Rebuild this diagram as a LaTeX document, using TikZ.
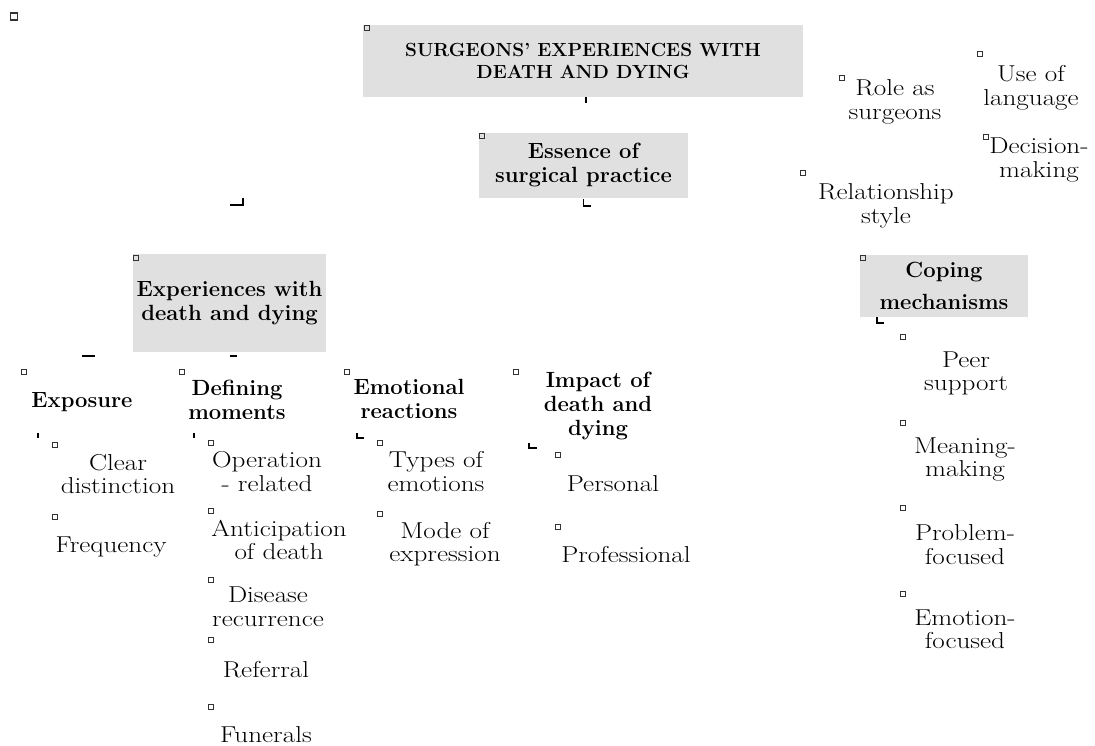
\documentclass[tikz,border=0pt]{standalone}
\usepackage{fontspec}
\usepackage{tikz}
\newfontfamily\widefont{lmroman17-regular}[Extension=.otf, FakeStretch=1.18]
\definecolor{boxgray}{HTML}{E0E0E0}
\newcommand{\bodyfont}{\widefont\fontsize{23}{23.5}\selectfont}
\newcommand{\headfont}{\fontsize{22}{24}\selectfont\bfseries}
\newcommand{\titlefont}{\fontsize{19}{22}\selectfont\bfseries}

\begin{document}
\begin{tikzpicture}[x=1pt,y=-1pt,
    box/.style={fill=boxgray, inner sep=0pt, align=center, font=\headfont},
    lbl/.style={inner sep=0pt, align=center, font=\bodyfont},
    head/.style={lbl, font=\headfont},
    fold/.style={draw=black!80, line width=0.7pt, minimum size=5.5pt, inner sep=0pt},
    stub/.style={line width=1.6pt}]
    \useasboundingbox (0,0) rectangle (1095,746);
    % boxes
    \node[box, font=\titlefont, minimum width=440pt, minimum height=72pt] (T) at (583,61) {SURGEONS’ EXPERIENCES WITH\\DEATH AND DYING};
    \node[box, minimum width=209pt, minimum height=65pt] (E) at (583.5,165.5) {Essence of\\surgical practice};
    \node[box, minimum width=193pt, minimum height=98pt] (X) at (229.5,303) {Experiences with\\death and dying};
    \node[box, minimum width=168pt, minimum height=62pt] (C) at (944,286) {Coping\\[8pt]mechanisms};
    % right branch
    \node[lbl] (RS) at (895,102) {Role as\\surgeons};
    \node[lbl] (UL) at (1031,88) {Use of\\language};
    \node[lbl] (DM) at (1039,160) {Decision-\\making};
    \node[lbl] (RY) at (886,206) {Relationship\\style};
    \node[lbl] (PS) at (966,373.5) {Peer\\support};
    \node[lbl] (MM) at (965,459.5) {Meaning-\\making};
    \node[lbl] (PF) at (965,544.5) {Problem-\\focused};
    \node[lbl] (EF) at (965,629.5) {Emotion-\\focused};
    % left branch
    \node[head] (EX) at (82,402) {Exposure};
    \node[head] (DF) at (237,400) {Defining\\moments};
    \node[head] (ER) at (409,399) {Emotional\\reactions};
    \node[head] (IM) at (598,406) {Impact of\\death and\\dying};
    \node[lbl] (CD) at (118,474) {Clear\\distinction};
    \node[lbl] (FQ) at (111,547) {Frequency};
    \node[lbl] (OR) at (267,471.5) {Operation\\- related};
    \node[lbl] (AD) at (279,540) {Anticipation\\of death};
    \node[lbl] (DR) at (268,606.5) {Disease\\recurrence};
    \node[lbl] (RF) at (266,670) {Referral};
    \node[lbl] (FN) at (266,735) {Funerals};
    \node[lbl] (TE) at (436,471.5) {Types of\\emotions};
    \node[lbl] (ME) at (445,544) {Mode of\\expression};
    \node[lbl] (PE) at (613,484) {Personal};
    \node[lbl] (PR) at (626,555) {Professional};
    % fold markers
    \node[fold, line width=1.6pt, minimum size=7pt] (F0) at (14,16.5) {};
    \foreach \x/\y [count=\i] in {367/28, 482/136, 136/258, 863/258, 842/78,
        980/54, 986/137, 803/173, 24/372, 182/372, 347/372, 516/372,
        55/445, 55/517, 211/443, 211/511, 211/580, 211/640, 211/707,
        380/443, 380/514, 558/455, 558/527, 903/337, 903/423, 903/508, 903/594}
      \node[fold] (F\i) at (\x,\y) {};
    % connector stubs
    \coordinate (J1) at (230,205);
    \coordinate (J2) at (82,356);
    \coordinate (J3) at (38,433);
    \coordinate (J4) at (194,433);
    \coordinate (J5) at (357,433);
    \coordinate (J6) at (529,443);
    \draw[stub] (T.south) ++(3,0) -- ++(0,6);
    \draw[stub] (E.south) ++(0,1) -- ++(0,7) -- ++(7,0);
    \draw[stub] (J1) -- ++(13,0) -- ++(0,-7);
    \draw[stub] (J2) -- ++(13,0);
    \draw[stub] (X.south) ++(0,4) -- ++(7,0);
    \draw[stub] (J3) -- ++(0,5);
    \draw[stub] (J4) -- ++(0,5);
    \draw[stub] (J5) -- ++(0,5) -- ++(7,0);
    \draw[stub] (J6) -- ++(0,5) -- ++(8,0);
    \draw[stub] (C.south west) ++(17,0) -- ++(0,6) -- ++(7,0);
  \end{tikzpicture}
\end{document}
